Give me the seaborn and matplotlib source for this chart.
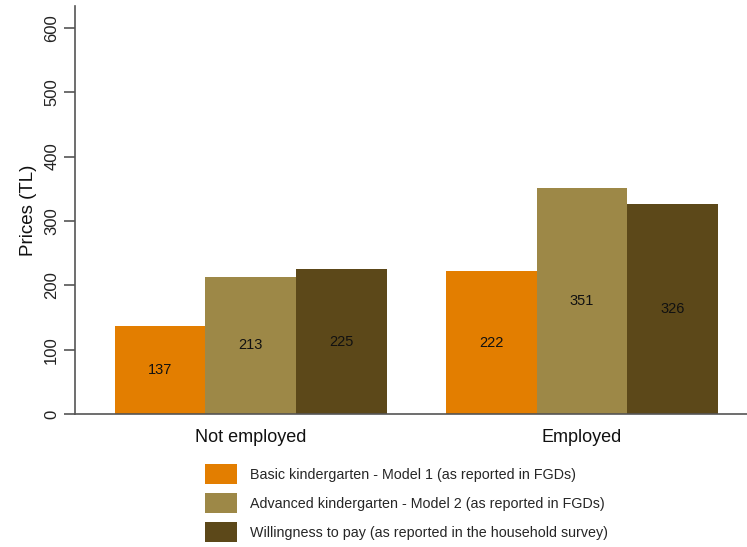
import matplotlib
matplotlib.use("Agg")
import matplotlib.pyplot as plt
import seaborn as sns
import pandas as pd
from matplotlib.patches import Patch

groups = ["Not employed", "Employed"]
series = [
    "Basic kindergarten - Model 1 (as reported in FGDs)",
    "Advanced kindergarten - Model 2 (as reported in FGDs)",
    "Willingness to pay (as reported in the household survey)",
]
basic = [137, 222]
advanced = [213, 351]
wtp = [225, 326]
colors = ["#E37E00", "#9D8847", "#5C4819"]
y_ticks = [0, 100, 200, 300, 400, 500, 600]

df = pd.DataFrame({
    "group": groups * 3,
    "series": [series[0]] * 2 + [series[1]] * 2 + [series[2]] * 2,
    "price": basic + advanced + wtp,
})

sns.set_theme(style="white")
plt.rcParams["font.family"] = ["Liberation Sans", "DejaVu Sans"]

fig = plt.figure(figsize=(7.47, 5.47), dpi=100)
ax = fig.add_axes([74.5 / 747, 133 / 547, 1 - 74.5 / 747, 408 / 547])

sns.barplot(data=df, x="group", y="price", hue="series", palette=colors,
            order=groups, hue_order=series, width=0.82, saturation=1,
            ax=ax, legend=False, linewidth=0)

for cont in ax.containers:
    ax.bar_label(cont, label_type="center", fontsize=10.5, color="#111111")

ax.set_xlim(-0.532, 1.498)
ax.set_ylim(0, 634)
ax.set_yticks(y_ticks)
ax.set_yticklabels([str(t) for t in y_ticks], rotation=90, va="center",
                   fontsize=12, color="#222222")
ax.tick_params(axis="y", length=8, width=1.2, color="#555555", left=True, pad=3)
ax.tick_params(axis="x", length=0, labelsize=13, pad=11, labelcolor="#111111")
ax.set_xlabel("")
ax.set_ylabel("Prices (TL)", fontsize=13.5, color="#111111", labelpad=5)

for side in ["top", "right"]:
    ax.spines[side].set_visible(False)
for side in ["left", "bottom"]:
    ax.spines[side].set_color("#555555")
    ax.spines[side].set_linewidth(1.2)

handles = [Patch(facecolor=c, edgecolor="none") for c in colors]
fig.legend(handles, series, loc="upper left", bbox_to_anchor=(205 / 747, 1 - 464 / 547),
           frameon=False, fontsize=10.3, handlelength=2.25, handleheight=1.78,
           handletextpad=0.9, labelspacing=0.63, borderaxespad=0, borderpad=0)

fig.savefig("out.png", dpi=100)
